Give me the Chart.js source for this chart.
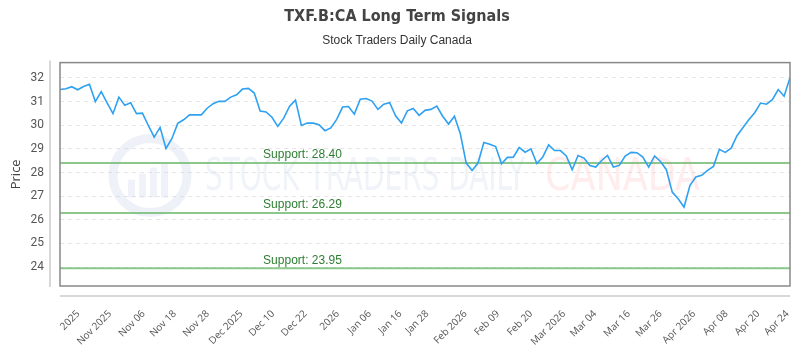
<!DOCTYPE html>
<html>
<head>
<meta charset="utf-8">
<script src="https://cdn.jsdelivr.net/npm/chart.js@4/dist/chart.umd.min.js"></script>
<style>
  body { margin: 0; background: #fff; }
  #wrap { width: 800px; height: 350px; }
</style>
</head>
<body>
<div id="wrap"><canvas id="signals"></canvas></div>
<script>
// daily closes, one per trading day
var closes = [
    31.51, 31.54, 31.63, 31.50, 31.64, 31.73, 31.00, 31.42, 30.95, 30.49,
    31.19, 30.85, 30.95, 30.49, 30.51, 29.99, 29.50, 29.91, 29.02, 29.43,
    30.08, 30.23, 30.44, 30.44, 30.44, 30.72, 30.91, 31.01, 31.01, 31.19,
    31.29, 31.53, 31.56, 31.36, 30.60, 30.56, 30.34, 29.95, 30.30, 30.81,
    31.06, 29.99, 30.09, 30.09, 30.02, 29.77, 29.89, 30.25, 30.77, 30.79,
    30.47, 31.10, 31.13, 31.02, 30.67, 30.89, 30.95, 30.40, 30.09, 30.61,
    30.71, 30.42, 30.63, 30.67, 30.81, 30.38, 30.05, 30.38, 29.64, 28.40,
    28.09, 28.40, 29.27, 29.20, 29.10, 28.37, 28.64, 28.65, 29.06, 28.86,
    29.00, 28.38, 28.65, 29.17, 28.93, 28.93, 28.70, 28.12, 28.72, 28.61,
    28.30, 28.23, 28.51, 28.72, 28.23, 28.30, 28.70, 28.85, 28.84, 28.65,
    28.23, 28.70, 28.47, 28.12, 27.17, 26.89, 26.54, 27.45, 27.81, 27.88,
    28.09, 28.26, 28.98, 28.85, 29.03, 29.56, 29.89, 30.23, 30.53, 30.94,
    30.89, 31.08, 31.51, 31.23, 32.01
];
var supports = [28.40, 26.29, 23.95];

// x tick labels and where they sit (in trading-day index)
var tickText = ["2025", "Nov 2025", "Nov 06", "Nov 18", "Nov 28", "Dec 2025", "Dec 10", "Dec 22",
    "2026", "Jan 06", "Jan 16", "Jan 28", "Feb 2026", "Feb 09", "Feb 20", "Mar 2026", "Mar 04",
    "Mar 16", "Mar 26", "Apr 2026", "Apr 08", "Apr 20", "Apr 24"];
var tickPos = [3.1, 8.5, 14.2, 19.5, 25.1, 30.8, 36.2, 41.7, 47.2, 52.6, 57.8, 62.4, 68.9,
    74.4, 80, 85.6, 90.9, 96.6, 102, 107.7, 113.2, 118.6, 123.6];
var yTicks = [24, 25, 26, 27, 28, 29, 30, 31, 32];
var supportLabelAt = 34.5;

var pricePoints = closes.map(function (v, i) { return {x: i, y: v}; });

var supportSets = supports.map(function (s) {
    return {
        label: 'Support ' + s.toFixed(2),
        data: [{x: 0, y: s}, {x: closes.length - 1, y: s}],
        borderColor: 'rgba(120,190,120,0.85)',
        borderWidth: 2,
        pointRadius: 0,
        fill: false
    };
});

// watermark, frame and the extra axis lines
var decor = {
    id: 'decor',
    beforeDatasetsDraw: function (chart) {
        var c = chart.ctx, a = chart.chartArea;
        c.save();
        // logo circle
        var cx = a.left + 90, cy = a.top + 113;
        c.strokeStyle = 'rgba(200,210,232,0.3)';
        c.lineWidth = 9;
        c.beginPath(); c.arc(cx, cy, 37, 0, Math.PI * 2); c.stroke();
        c.fillStyle = 'rgba(200,210,232,0.28)';
        [[-22, 10], [-11, 16], [0, 22], [11, 26]].forEach(function (b) {
            c.fillRect(cx + b[0], cy + 22 - b[1] - 8, 7, b[1] + 8);
        });
        c.font = '44px "Liberation Sans Narrow", "DejaVu Sans Condensed", sans-serif';
        c.textBaseline = 'middle';
        c.fillStyle = 'rgba(205,214,232,0.3)';
        c.fillText('STOCK TRADERS DAILY', a.left + 145, cy + 3, 320);
        c.fillStyle = 'rgba(255,195,195,0.3)';
        c.fillText('CANADA', a.left + 485, cy + 3, 155);
        c.restore();
    },
    afterDraw: function (chart) {
        var c = chart.ctx, a = chart.chartArea;
        c.save();
        c.strokeStyle = '#888';
        c.lineWidth = 1.5;
        c.strokeRect(a.left, a.top, a.right - a.left, a.bottom - a.top);
        c.strokeStyle = '#ccc';
        c.lineWidth = 1.5;
        c.beginPath();
        c.moveTo(a.left - 10, a.top - 2); c.lineTo(a.left - 10, a.bottom + 1);
        c.moveTo(a.left, a.bottom + 10); c.lineTo(a.right, a.bottom + 10);
        c.stroke();
        c.restore();
    },
    afterDatasetsDraw: function (chart) {
        var c = chart.ctx, xs = chart.scales.x, ys = chart.scales.y;
        c.save();
        c.font = '12px "Liberation Sans Narrow", sans-serif';
        c.fillStyle = '#2e7d32';
        c.textBaseline = 'bottom';
        supports.forEach(function (s) {
            c.fillText('Support: ' + s.toFixed(2), xs.getPixelForValue(supportLabelAt), ys.getPixelForValue(s) - 2);
        });
        c.restore();
    }
};

var ctx = document.getElementById('signals').getContext('2d');

var signals = new Chart(ctx, {
    type: 'line',
    data: {
        datasets: [{
            label: 'Price',
            data: pricePoints,
            borderColor: '#2ea1f2',
            borderWidth: 1.6,
            pointRadius: 0,
            tension: 0,
            fill: false
        }].concat(supportSets)
    },
    options: {
        responsive: true,
        maintainAspectRatio: false,
        animation: false,
        layout: { padding: { left: 4, right: 10, top: 0, bottom: 2 } },
        plugins: {
            legend: { display: false },
            tooltip: { enabled: false },
            title: {
                display: true,
                text: 'TXF.B:CA Long Term Signals',
                color: '#444',
                font: { family: '"Liberation Sans Narrow", "DejaVu Sans Condensed", sans-serif', size: 16, weight: 'bold' },
                padding: { top: 7, bottom: 7 }
            },
            subtitle: {
                display: true,
                text: 'Stock Traders Daily Canada',
                color: '#333',
                font: { family: '"Liberation Sans Narrow", sans-serif', size: 12 },
                padding: { bottom: 15 }
            }
        },
        scales: {
            x: {
                type: 'linear',
                min: 0,
                max: closes.length - 1,
                afterBuildTicks: function (scale) {
                    scale.ticks = tickPos.map(function (p) { return {value: p}; });
                },
                afterFit: function (scale) {
                    scale.paddingLeft = 0;
                    scale.paddingRight = 0;
                    scale.height = 62;
                },
                grid: { display: false },
                border: { display: false },
                ticks: {
                    autoSkip: false,
                    maxRotation: 45,
                    minRotation: 45,
                    padding: 14,
                    color: '#555',
                    font: { family: '"Open Sans", sans-serif', size: 10 },
                    callback: function (v, i) { return tickText[i]; }
                }
            },
            y: {
                min: 23.2,
                max: 32.65,
                afterBuildTicks: function (scale) {
                    scale.ticks = yTicks.map(function (v) { return {value: v}; });
                },
                afterFit: function (scale) {
                    scale.width = 56;
                },
                title: {
                    display: true,
                    text: 'Price',
                    color: '#444',
                    font: { family: '"Open Sans", sans-serif', size: 13 },
                    padding: { top: 4, bottom: 4 }
                },
                grid: { color: '#e6e6e6', drawTicks: false },
                border: { display: false, dash: [4, 4] },
                ticks: {
                    padding: 16,
                    color: '#555',
                    font: { family: 'Roboto, sans-serif', size: 12 }
                }
            }
        }
    },
    plugins: [decor]
});
</script>
</body>
</html>
